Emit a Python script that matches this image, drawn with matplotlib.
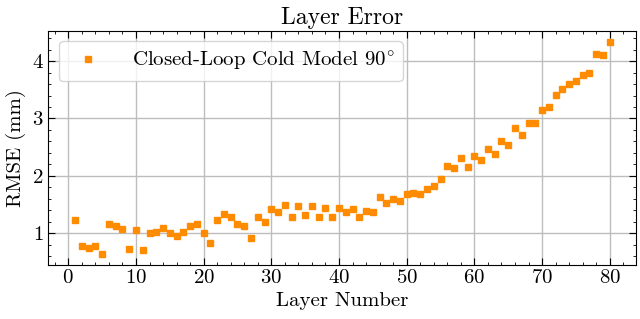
import matplotlib
matplotlib.use("Agg")
import matplotlib.pyplot as plt
from matplotlib.ticker import MultipleLocator
import numpy as np

# layer error data
layers = np.arange(1, 81)
rmse = [1.23, 0.78, 0.74, 0.78, 0.64, 1.16, 1.13, 1.07, 0.73, 1.05,
        0.71, 1.01, 1.02, 1.10, 1.01, 0.96, 1.03, 1.13, 1.16, 1.00,
        0.84, 1.23, 1.33, 1.28, 1.17, 1.13, 0.92, 1.28, 1.20, 1.43,
        1.38, 1.49, 1.29, 1.48, 1.32, 1.47, 1.29, 1.44, 1.29, 1.44,
        1.37, 1.43, 1.29, 1.39, 1.38, 1.63, 1.52, 1.60, 1.56, 1.68,
        1.70, 1.68, 1.77, 1.82, 1.95, 2.17, 2.13, 2.32, 2.16, 2.35,
        2.27, 2.47, 2.38, 2.60, 2.54, 2.83, 2.71, 2.93, 2.93, 3.14,
        3.20, 3.41, 3.51, 3.60, 3.66, 3.76, 3.79, 4.12, 4.11, 4.34]

plt.rcParams['font.family'] = 'serif'
plt.rcParams['font.serif'] = ['cmr10']
plt.rcParams['mathtext.fontset'] = 'cm'
plt.rcParams['axes.formatter.use_mathtext'] = True
plt.rcParams['font.size'] = 15

fig = plt.figure(figsize=(6.4, 3.19), dpi=100)
ax = fig.add_axes([0.0755, 0.1705, 0.919, 0.7325])

ax.plot(layers, rmse, 's', color='darkorange', markersize=4.5,
        label=r'Closed-Loop Cold Model 90$^{\circ}$')

ax.set_title('Layer Error', fontsize=17, pad=5)
ax.set_xlabel('Layer Number', labelpad=3)
ax.set_ylabel('RMSE (mm)')

ax.xaxis.set_major_locator(MultipleLocator(10))
ax.xaxis.set_minor_locator(MultipleLocator(2))
ax.yaxis.set_major_locator(MultipleLocator(1))
ax.yaxis.set_minor_locator(MultipleLocator(0.2))
ax.tick_params(which='both', direction='in', top=True, right=True)
ax.tick_params(which='major', length=5, width=0.8)
ax.tick_params(which='minor', length=2.5, width=0.6)
ax.grid(True, which='major', color='#bdbdbd', linewidth=1)

ax.legend(loc='upper left', fontsize=15, handletextpad=1.1,
          borderpad=0.4, markerscale=0.9)

fig.savefig('out.png', dpi=100)
